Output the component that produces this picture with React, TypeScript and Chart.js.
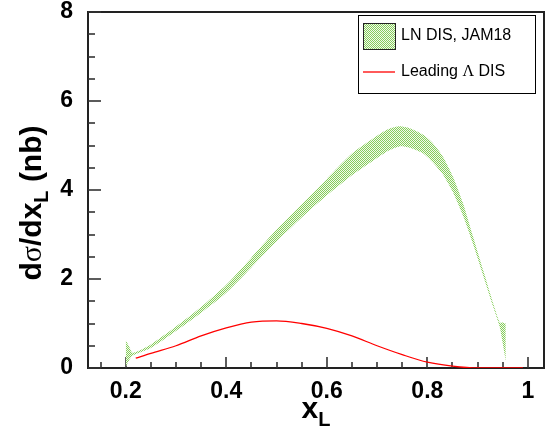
import React, { useEffect, useRef } from "react";
import { Chart, registerables } from "chart.js";

Chart.register(...registerables);

// Green band (LN DIS, JAM18): x positions with lower / upper edges
const bandX = [0.200, 0.207, 0.214, 0.25, 0.30, 0.35, 0.40, 0.45, 0.50, 0.55, 0.60, 0.65, 0.70, 0.725, 0.745, 0.765, 0.792, 0.811, 0.831, 0.851, 0.871, 0.891, 0.911, 0.931, 0.944, 0.950, 0.956];
const bandUpper = [0.63, 0.48, 0.34, 0.53, 0.93, 1.37, 1.87, 2.48, 3.11, 3.68, 4.25, 4.82, 5.22, 5.38, 5.43, 5.39, 5.24, 5.05, 4.75, 4.30, 3.70, 2.95, 2.20, 1.45, 1.02, 1.02, 1.00];
const bandLower = [0.02, 0.18, 0.28, 0.45, 0.83, 1.24, 1.69, 2.26, 2.84, 3.38, 3.88, 4.33, 4.72, 4.90, 4.98, 4.95, 4.82, 4.62, 4.35, 3.95, 3.42, 2.78, 2.08, 1.37, 0.92, 0.55, 0.15];

// Red line (Leading Λ DIS)
const redX = [0.22, 0.25, 0.30, 0.35, 0.40, 0.45, 0.50, 0.55, 0.60, 0.65, 0.70, 0.75, 0.80, 0.85, 0.90, 0.95, 0.99];
const redY = [0.22, 0.33, 0.50, 0.72, 0.90, 1.03, 1.06, 1.00, 0.89, 0.72, 0.50, 0.30, 0.13, 0.04, 0.0, 0.0, 0.0];

// Tick values
const xMajorTicks = [0.2, 0.4, 0.6, 0.8, 1.0];
const xMinorTicks = [0.15, 0.25, 0.3, 0.35, 0.45, 0.5, 0.55, 0.65, 0.7, 0.75, 0.85, 0.9, 0.95];
const yMajorTicks = [0, 2, 4, 6, 8];
const yMinorTicks = [0.5, 1, 1.5, 2.5, 3, 3.5, 4.5, 5, 5.5, 6.5, 7, 7.5];

const seriesLabels = ["LN DIS, JAM18", "Leading Λ DIS"];

const SANS = "'Liberation Sans', Arial, Helvetica, sans-serif";

function makePattern(ctx: CanvasRenderingContext2D) {
  const pc = document.createElement("canvas");
  pc.width = 2;
  pc.height = 2;
  const p = pc.getContext("2d")!;
  p.fillStyle = "#86cc5c";
  p.fillRect(0, 0, 1, 1);
  p.fillRect(1, 1, 1, 1);
  p.fillStyle = "#f2faec";
  p.fillRect(1, 0, 1, 1);
  p.fillRect(0, 1, 1, 1);
  return ctx.createPattern(pc, "repeat")!;
}

export default function App() {
  const ref = useRef<HTMLCanvasElement | null>(null);

  useEffect(() => {
    const canvas = ref.current!;
    const ctx = canvas.getContext("2d")!;
    const pattern = makePattern(ctx);

    const framePlugin = {
      id: "frame",
      beforeDatasetsDraw(chart: any) {
        const { ctx: c, chartArea: a, scales } = chart;
        const xs = scales.x;
        const ys = scales.y;
        c.save();
        c.strokeStyle = "#222";
        c.lineWidth = 2;
        c.strokeRect(Math.round(a.left), Math.round(a.top), Math.round(a.right - a.left), Math.round(a.bottom - a.top));
        c.strokeStyle = "#333";
        c.lineWidth = 1.6;
        const bottom = Math.round(a.bottom);
        const left = Math.round(a.left);
        const tick = (x1: number, y1: number, x2: number, y2: number) => {
          c.beginPath();
          c.moveTo(x1, y1);
          c.lineTo(x2, y2);
          c.stroke();
        };
        xMajorTicks.forEach((v) => {
          const px = Math.round(xs.getPixelForValue(v));
          tick(px, bottom, px, bottom - 11);
        });
        xMinorTicks.forEach((v) => {
          const px = Math.round(xs.getPixelForValue(v));
          tick(px, bottom, px, bottom - 6);
        });
        yMajorTicks.forEach((v) => {
          const py = Math.round(ys.getPixelForValue(v));
          tick(left, py, left + 13, py);
        });
        yMinorTicks.forEach((v) => {
          const py = Math.round(ys.getPixelForValue(v));
          tick(left, py, left + 7, py);
        });
        c.restore();
      },
      afterDraw(chart: any) {
        const c: CanvasRenderingContext2D = chart.ctx;
        const a = chart.chartArea;
        c.save();
        // x-axis title
        c.fillStyle = "#000";
        c.textBaseline = "alphabetic";
        c.font = `bold 30px ${SANS}`;
        const wx = c.measureText("x").width;
        c.font = `bold 20px ${SANS}`;
        const wl = c.measureText("L").width;
        const cx = (a.left + a.right) / 2;
        const sx = cx - (wx + wl) / 2;
        c.font = `bold 30px ${SANS}`;
        c.fillText("x", sx, 418);
        c.font = `bold 20px ${SANS}`;
        c.fillText("L", sx + wx, 426);

        // y-axis title (rotated)
        c.save();
        c.translate(41, 203);
        c.rotate(-Math.PI / 2);
        const parts: [string, string, number][] = [
          ["d", `bold 30px ${SANS}`, 0],
          ["σ", `30px 'Liberation Serif', serif`, 0],
          ["/dx", `bold 30px ${SANS}`, 0],
          ["L", `bold 20px ${SANS}`, 7],
          [" (nb)", `bold 30px ${SANS}`, 0],
        ];
        let total = 0;
        parts.forEach(([t, f]) => {
          c.font = f;
          total += c.measureText(t).width;
        });
        let px = -total / 2;
        parts.forEach(([t, f, dy]) => {
          c.font = f;
          c.fillText(t, px, dy);
          px += c.measureText(t).width;
        });
        c.restore();

        // legend
        const L = 358, T = 15, R = 535, B = 93;
        c.fillStyle = "#fff";
        c.fillRect(L, T, R - L, B - T);
        c.strokeStyle = "#000";
        c.lineWidth = 1;
        c.strokeRect(L + 0.5, T + 0.5, R - L, B - T);
        c.fillStyle = pattern;
        c.fillRect(363, 23, 32, 26);
        c.strokeStyle = "#222";
        c.strokeRect(363.5, 23.5, 32, 26);
        c.strokeStyle = "#ff0000";
        c.lineWidth = 1.3;
        c.beginPath();
        c.moveTo(363, 72);
        c.lineTo(395, 72);
        c.stroke();
        c.fillStyle = "#000";
        c.textBaseline = "middle";
        c.font = `16px ${SANS}`;
        c.fillText(seriesLabels[0], 401, 36);
        const lab = seriesLabels[1];
        const idx = lab.indexOf("Λ");
        const pre = lab.slice(0, idx);
        const post = lab.slice(idx + 1);
        let lx = 401;
        c.font = `16px ${SANS}`;
        c.fillText(pre, lx, 72);
        lx += c.measureText(pre).width;
        c.font = `16px 'Liberation Serif', serif`;
        c.fillText("Λ", lx, 72);
        lx += c.measureText("Λ").width;
        c.font = `16px ${SANS}`;
        c.fillText(post, lx, 72);
        c.restore();
      },
    };

    const chart = new Chart(canvas, {
      type: "line",
      data: {
        datasets: [
          {
            label: "band-lower",
            data: bandX.map((x, i) => ({ x, y: bandLower[i] })),
            borderColor: "rgba(0,0,0,0)",
            borderWidth: 0,
            pointRadius: 0,
            fill: false,
            tension: 0.2,
          },
          {
            label: seriesLabels[0],
            data: bandX.map((x, i) => ({ x, y: bandUpper[i] })),
            borderColor: "rgba(0,0,0,0)",
            borderWidth: 0,
            pointRadius: 0,
            fill: "-1",
            backgroundColor: pattern,
            tension: 0.2,
          },
          {
            label: seriesLabels[1],
            data: redX.map((x, i) => ({ x, y: redY[i] })),
            borderColor: "#ff0000",
            borderWidth: 1.3,
            pointRadius: 0,
            fill: false,
            cubicInterpolationMode: "monotone",
          },
        ],
      },
      options: {
        responsive: false,
        animation: false,
        devicePixelRatio: 1,
        layout: { autoPadding: false, padding: { left: 0, top: 12, right: 7, bottom: 0 } },
        plugins: { legend: { display: false }, tooltip: { enabled: false } },
        scales: {
          x: {
            type: "linear",
            min: 0.125,
            max: 1.032,
            grid: { display: false },
            border: { display: false },
            afterBuildTicks: (s: any) => {
              s.ticks = xMajorTicks.map((v) => ({ value: v }));
            },
            afterFit: (s: any) => {
              s.height = 62;
              s.paddingLeft = 0;
              s.paddingRight = 0;
            },
            ticks: {
              color: "#000",
              padding: 2,
              maxRotation: 0,
              autoSkip: false,
              font: { family: SANS, weight: "bold", size: 23 },
              callback: (v: any) => (Math.abs(v - 1) < 1e-9 ? "1" : Number(v).toFixed(1)),
            },
          },
          y: {
            type: "linear",
            min: 0,
            max: 8,
            grid: { display: false },
            border: { display: false },
            afterBuildTicks: (s: any) => {
              s.ticks = yMajorTicks.map((v) => ({ value: v }));
            },
            afterFit: (s: any) => {
              s.width = 88;
              s.paddingTop = 0;
              s.paddingBottom = 0;
            },
            ticks: {
              color: "#000",
              padding: 7,
              autoSkip: false,
              font: { family: SANS, weight: "bold", size: 23 },
              callback: (v: any) => String(v),
            },
          },
        },
      } as any,
      plugins: [framePlugin],
    });

    return () => chart.destroy();
  }, []);

  return (
    <div style={{ position: "fixed", left: 0, top: 0, width: 551, height: 430, background: "#fff" }}>
      <canvas ref={ref} width={551} height={430} style={{ display: "block", width: 551, height: 430 }} />
    </div>
  );
}
